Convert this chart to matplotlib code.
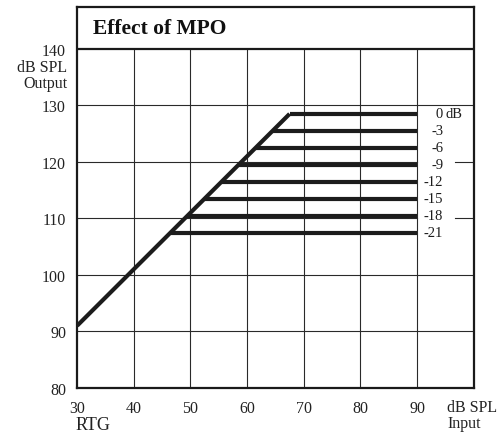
import matplotlib.pyplot as plt

# MPO settings and the output level they limit at
mpo_labels = ['0', '-3', '-6', '-9', '-12', '-15', '-18', '-21']
limit_output = [128.5, 125.5, 122.5, 119.5, 116.5, 113.5, 110.5, 107.5]
knee_input = [67.5, 64.5, 61.5, 58.5, 55.5, 52.5, 49.5, 46.5]
line_end = 90

# linear part of the input/output curve
gain_input = [30, 67.5]
gain_output = [91, 128.5]

x_ticks = [30, 40, 50, 60, 70, 80, 90]
y_ticks = [80, 90, 100, 110, 120, 130, 140]

plt.rcParams['font.family'] = ['Liberation Serif', 'DejaVu Serif']

fig = plt.figure(figsize=(5.04, 4.35), dpi=100)
ax = fig.add_axes([0.153, 0.106, 0.787, 0.876])
ax.set_xlim(30, 100)
ax.set_ylim(80, 147.45)

grid_c = '#2a2a2a'
# vertical grid
for x in x_ticks[1:]:
    ax.plot([x, x], [80, 140], color=grid_c, lw=0.8, zorder=1)
# horizontal grid (110 and 120 are interrupted by the labels)
for y in y_ticks[1:-1]:
    if y in (110, 120):
        ax.plot([30, 90], [y, y], color=grid_c, lw=0.8, zorder=1)
        ax.plot([96.7, 100], [y, y], color=grid_c, lw=0.8, zorder=1)
    else:
        ax.plot([30, 100], [y, y], color=grid_c, lw=0.8, zorder=1)
# title box separator
ax.plot([30, 100], [140, 140], color='#1a1a1a', lw=1.6, zorder=3)

ink = '#1c1c1c'
ax.plot(gain_input, gain_output, color=ink, lw=3, solid_capstyle='butt', zorder=4)
for lab, y, x0 in zip(mpo_labels, limit_output, knee_input):
    ax.plot([x0, line_end], [y, y], color=ink, lw=3, solid_capstyle='butt', zorder=4)
    ax.text(94.6, y, lab, ha='right', va='center', fontsize=10.5, color=ink)
ax.text(95.1, limit_output[0], 'dB', ha='left', va='center', fontsize=10.5, color=ink)

ax.text(32.8, 143.7, 'Effect of MPO', ha='left', va='center', fontsize=15.5,
        fontweight='bold', color='#111111')

for s in ax.spines.values():
    s.set_linewidth(1.6)
    s.set_color('#1a1a1a')

ax.set_xticks(x_ticks)
ax.set_yticks(y_ticks)
ax.tick_params(length=0, labelsize=11.5, colors='#222222')
ax.tick_params(axis='x', pad=9)
ax.tick_params(axis='y', pad=8)

fig.text(67 / 504, 1 - 68 / 435, 'dB SPL', ha='right', va='center', fontsize=11.5, color='#222222')
fig.text(67 / 504, 1 - 84 / 435, 'Output', ha='right', va='center', fontsize=11.5, color='#222222')
fig.text(447 / 504, 1 - 408 / 435, 'dB SPL', ha='left', va='center', fontsize=11.5, color='#222222')
fig.text(447 / 504, 1 - 424 / 435, 'Input', ha='left', va='center', fontsize=11.5, color='#222222')
fig.text(76 / 504, 1 / 435, 'RTG', ha='left', va='bottom', fontsize=13, color='#222222')

fig.savefig('out.png', dpi=100)
